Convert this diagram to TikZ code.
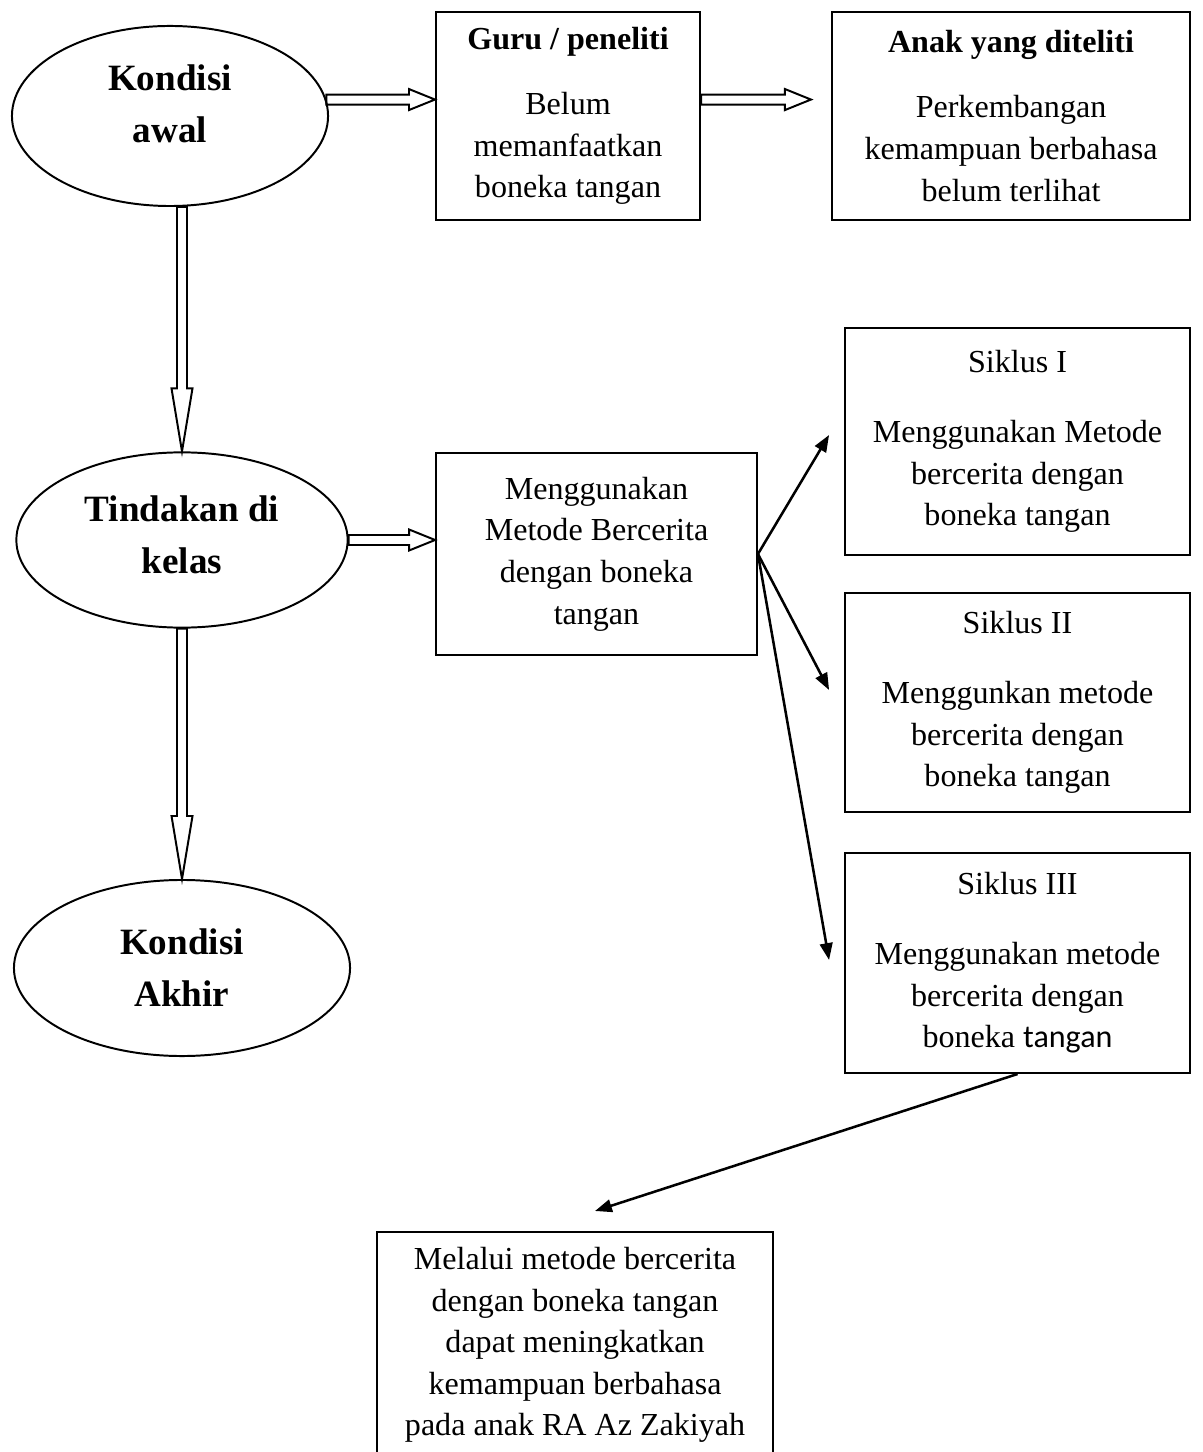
\documentclass[tikz,border=0pt]{standalone}
\usepackage{fontspec}
\setmainfont{Liberation Serif}
\newfontfamily\calfont{Carlito}
\usetikzlibrary{arrows.meta,positioning,calc,shapes.geometric}
\newcommand{\txt}{\fontsize{11.4}{14.8}\selectfont}
\newcommand{\ttl}{\fontsize{13.2}{18.5}\selectfont\bfseries}

\begin{document}
\begin{tikzpicture}[
  x=0.0125cm, y=-0.0125cm,
  box/.style={rectangle, draw=black, line width=0.7pt, align=center, font=\txt, inner sep=0pt},
  state/.style={ellipse, draw=black, line width=0.7pt, align=center, font=\ttl, inner sep=0pt},
  arrow/.style={-{Triangle[length=6pt,width=4.5pt]}, line width=0.9pt, draw=black},
  dblh/.style={line width=0.7pt, to path={($(\tikztostart)+(0,-5)$) -- ($(\tikztotarget)+(-26,-5)$) -- ($(\tikztotarget)+(-26,-10.5)$) -- (\tikztotarget) -- ($(\tikztotarget)+(-26,10.5)$) -- ($(\tikztotarget)+(-26,5)$) -- ($(\tikztostart)+(0,5)$) -- cycle}},
  dblv/.style={line width=0.7pt, to path={($(\tikztostart)+(-5,0)$) -- ($(\tikztotarget)+(-5,-63)$) -- ($(\tikztotarget)+(-10.5,-63)$) -- (\tikztotarget) -- ($(\tikztotarget)+(10.5,-63)$) -- ($(\tikztotarget)+(5,-63)$) -- ($(\tikztostart)+(5,0)$) -- cycle}}
]
\clip (0,0) rectangle (1202,1452);
% left column
\node[state, minimum width=3.95cm, minimum height=2.25cm, text depth=8.5pt] (kawal) at (170,116) {Kondisi\\awal};
\node[state, minimum width=4.14cm, minimum height=2.19cm, text depth=3.6pt] (tind) at (182,540) {Tindakan di\\kelas};
\node[state, minimum width=4.2cm, minimum height=2.2cm] (kakhir) at (182,968) {Kondisi\\Akhir};
% top row
\node[box, minimum width=3.3cm, minimum height=2.6cm] (guru) at (568,116) {{\bfseries Guru / peneliti}\\[8.3pt]Belum\\memanfaatkan\\boneka tangan};
\node[box, minimum width=4.475cm, minimum height=2.6cm] (anak) at (1011,116) {{\bfseries Anak yang diteliti}\\[8.3pt]Perkembangan\\kemampuan berbahasa\\belum terlihat};
% action
\node[box, minimum width=4.01cm, minimum height=2.525cm] (metode) at (596.5,554) {Menggunakan\\Metode Bercerita\\dengan boneka\\tangan};
\node[box, minimum width=4.31cm, minimum height=2.84cm] (s1) at (1017.5,441.5) {Siklus I\\[10pt]Menggunakan Metode\\bercerita dengan\\boneka tangan};
\node[box, minimum width=4.31cm, minimum height=2.74cm] (s2) at (1017.5,702.5) {Siklus II\\[10pt]Menggunkan metode\\bercerita dengan\\boneka tangan};
\node[box, minimum width=4.31cm, minimum height=2.75cm] (s3) at (1017.5,963) {Siklus III\\[10pt]Menggunakan metode\\bercerita dengan\\boneka {\calfont tangan}};
\node[box, minimum width=4.95cm, minimum height=2.825cm] (res) at (575,1345) {Melalui metode bercerita\\dengan boneka tangan\\dapat meningkatkan\\kemampuan berbahasa\\pada anak RA Az Zakiyah};
% arrow ends
\coordinate (g2) at ($(anak.west |- kawal.6)+(-20,0)$);
\coordinate (t1) at ($(s1.west)+(-15,-6.5)$);
\coordinate (t2) at ($(s2.west)+(-15,-12.5)$);
\coordinate (t3) at ($(s3.west)+(-15,-3)$);
\coordinate (t4) at ($(res.north)+(20,-20)$);
% double arrows
\draw[dblh] (kawal.6) to (kawal.6 -| guru.west);
\draw[dblh] (guru.east |- kawal.6) to (g2);
\draw[dblv] (tind.north |- kawal.south) to (tind.north);
\draw[dblh] (tind.east) to (tind.east -| metode.west);
\draw[dblv] (tind.south) to (kakhir.north);
% cycles
\draw[arrow] (metode.east) -- (t1);
\draw[arrow] (metode.east) -- (t2);
\draw[arrow] (metode.east) -- (t3);
\draw[arrow] (s3.south) -- (t4);
\end{tikzpicture}
\end{document}
